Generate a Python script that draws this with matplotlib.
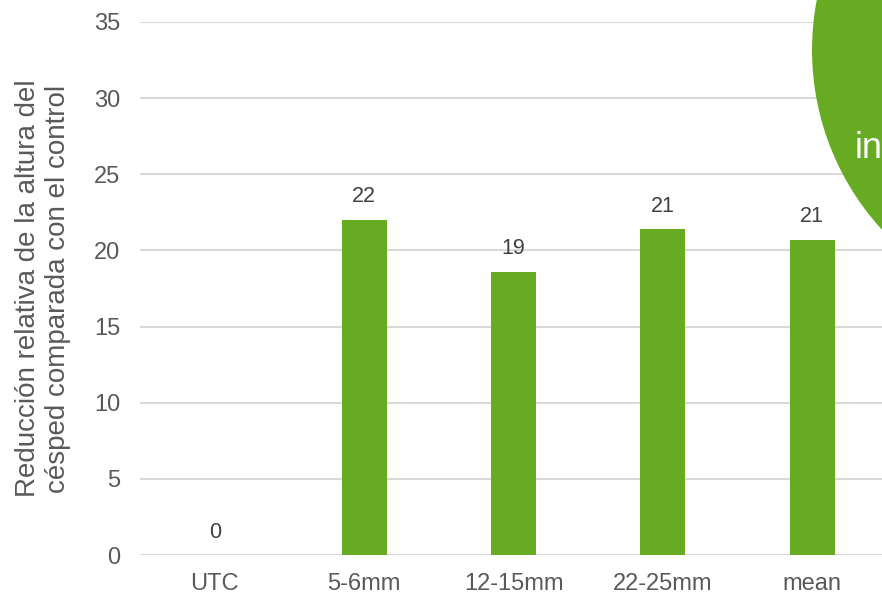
import numpy as np
import matplotlib.pyplot as plt
from matplotlib.patches import Circle

categories = ['UTC', '5-6mm', '12-15mm', '22-25mm', 'mean']
values = [0.0, 22.0, 18.6, 21.4, 20.7]
yticks = [0, 5, 10, 15, 20, 25, 30, 35]
ylabel = 'Reducción relativa de la altura del\ncésped comparada con el control'

GREEN = '#66AB22'
GREY = '#595959'
GRID = '#D9D9D9'

plt.rcParams['font.family'] = ['Liberation Sans', 'DejaVu Sans']

fig = plt.figure(figsize=(8.82, 5.94), dpi=100)
ax = fig.add_axes([140 / 882, 39 / 594, 747 / 882, 533 / 594])

x = np.arange(len(categories))
bars = ax.bar(x, values, width=0.3, color=GREEN, zorder=3)

for xi, v in zip(x, values):
    ax.annotate(f'{v:.0f}', (xi, v), xytext=(0, 9), textcoords='offset points',
                ha='center', va='bottom', fontsize=15.5, color='#404040')

ax.set_xlim(-0.5, len(categories) - 0.5)
ax.set_ylim(0, 35)
ax.set_yticks(yticks)
ax.set_xticks(x)
ax.set_xticklabels(categories)
ax.tick_params(axis='both', length=0, labelsize=17, labelcolor=GREY)
ax.tick_params(axis='y', pad=14)
ax.tick_params(axis='x', pad=13)
ax.grid(axis='y', color=GRID, linewidth=1.5, zorder=0)
for s in ax.spines.values():
    s.set_visible(False)
ax.set_ylabel(ylabel, fontsize=20, color=GREY, linespacing=1.2)
ax.yaxis.set_label_coords(-0.093, 0.5)

# green circle in the top right corner
circ = Circle((10.78, 5.44), 2.66, transform=fig.dpi_scale_trans,
              facecolor=GREEN, edgecolor='none', zorder=5)
fig.patches.append(circ)
fig.text(855 / 882, 1 - 158 / 594, 'in', color='white', fontsize=26,
         ha='left', va='baseline', zorder=6)

fig.savefig('out.png', dpi=100)
